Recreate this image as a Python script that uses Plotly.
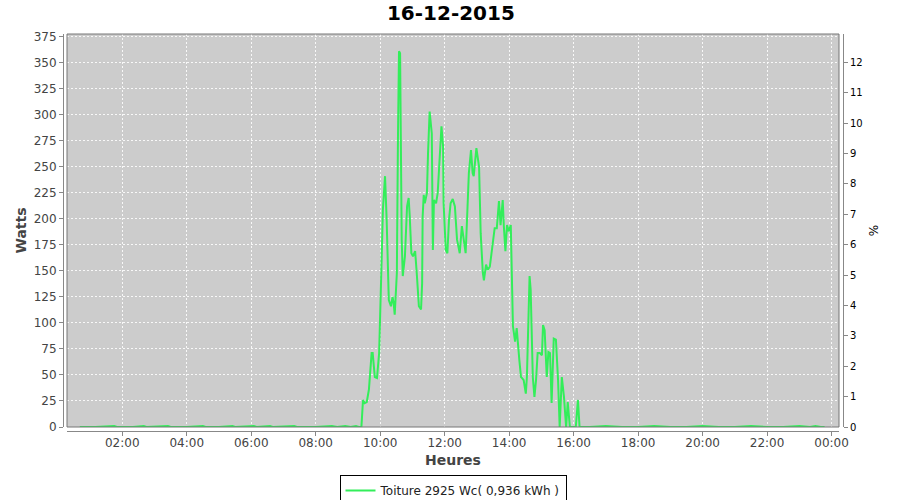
import plotly.graph_objects as go

DAY = "2015-12-16"
NEXT_DAY = "2015-12-17"

# Times (HH:MM) and power readings (W)
times = [
    "00:41", "01:10", "01:45", "01:50", "02:20", "02:40", "02:45", "03:25", "03:30",
    "04:00", "04:30", "04:35", "05:00", "05:25", "05:30", "06:05", "06:10", "06:35",
    "06:40", "07:20", "07:25", "08:00", "08:30", "08:40", "08:55", "09:05", "09:15",
    "09:20", "09:25",
    "09:28", "09:31", "09:35", "09:39", "09:44", "09:46", "09:50", "09:54", "09:58",
    "10:03", "10:05", "10:09", "10:12", "10:16", "10:20", "10:23", "10:25", "10:27",
    "10:31", "10:33", "10:35", "10:37", "10:38", "10:40", "10:42", "10:46", "10:50",
    "10:53", "10:55", "10:58", "11:01", "11:05", "11:08", "11:12", "11:16", "11:18",
    "11:19", "11:21", "11:23", "11:27", "11:29", "11:32", "11:36", "11:38", "11:40",
    "11:44", "11:47", "11:49", "11:54", "11:57", "11:58", "12:02", "12:05", "12:08",
    "12:11", "12:15", "12:19", "12:23", "12:28", "12:32", "12:36", "12:39", "12:41",
    "12:45", "12:49", "12:52", "12:54", "12:59", "13:04", "13:07", "13:11", "13:13",
    "13:17", "13:20", "13:24", "13:30", "13:33", "13:37", "13:41", "13:44", "13:48",
    "13:50", "13:53", "13:56", "13:59", "14:03", "14:07", "14:11", "14:14", "14:19",
    "14:22", "14:24", "14:27", "14:31", "14:33", "14:38", "14:40", "14:44", "14:47",
    "14:50", "14:53", "14:57", "15:01", "15:03", "15:06", "15:10", "15:13", "15:16",
    "15:19", "15:23", "15:27", "15:31", "15:34", "15:38", "15:42", "15:46", "15:49",
    "15:53", "16:04", "16:08", "16:11",
    "16:30", "17:00", "17:30", "18:00", "18:30", "19:00", "19:30", "20:00", "20:30",
    "21:00", "21:30", "22:00", "22:30", "23:00", "23:20", "23:30", "23:40", "23:47",
]
watts = [
    0, 0, 1, 0, 0, 1, 0, 1, 0,
    0, 1, 0, 0, 1, 0, 1, 0, 1,
    0, 1, 0, 0, 1, 0, 1, 0, 1,
    0, 0,
    26, 23, 24, 36, 71, 71, 48, 47, 71,
    167, 209, 241, 199, 122, 116, 125, 119, 108,
    148, 276, 361, 359, 276, 180, 145, 164, 212,
    220, 202, 167, 164, 169, 148, 116, 113, 138,
    202, 223, 215, 225, 263, 303, 282, 170, 218,
    215, 225, 247, 289, 270, 215, 170, 167, 199,
    215, 219, 212, 180, 167, 193, 180, 167, 192,
    244, 266, 244, 241, 268, 250, 186, 148, 141,
    156, 151, 154, 183, 191, 191, 217, 194, 218,
    194, 169, 194, 188, 194, 97, 82, 95, 64,
    48, 47, 45, 32, 48, 145, 132, 48, 29,
    45, 71, 71, 69, 98, 93, 48, 72, 71,
    23, 85, 84, 45, 0, 48, 29, 0, 24,
    0, 0, 26, 0,
    0, 1, 0, 0, 1, 0, 0, 1, 0,
    0, 1, 0, 0, 1, 0, 1, 0, 0,
]

series_name = "Toiture 2925 Wc( 0,936 kWh )"
title_text = "16-12-2015"

x_vals = [f"{DAY} {t}" for t in times]

fig = go.Figure()
fig.add_trace(go.Scatter(
    x=x_vals, y=watts, mode="lines", name=series_name,
    line=dict(color="#33EE5A", width=2),
    yaxis="y", hoverinfo="x+y",
))
# invisible helper trace so the right-hand % axis is drawn
fig.add_trace(go.Scatter(
    x=[x_vals[0]], y=[0], mode="markers", marker=dict(opacity=0),
    yaxis="y2", showlegend=False, hoverinfo="skip",
))

FONT = "DejaVu Sans"
tick_col = "#444444"
axis_col = "#888888"
grid_col = "rgba(255,255,255,0.85)"

fig.update_layout(
    width=900, height=500,
    paper_bgcolor="white", plot_bgcolor="#CCCCCC",
    margin=dict(l=63, r=57, t=34, b=69, autoexpand=False),
    font=dict(family=FONT, size=12, color=tick_col),
    title=dict(text=f"<b>{title_text}</b>", x=0.501, xanchor="center",
               y=0.974, yanchor="middle", automargin=False,
               font=dict(size=20, color="black", family=FONT)),
    showlegend=True,
    legend=dict(orientation="h", x=0.5, xanchor="center", y=0.05, yanchor="top",
                yref="container",
                bordercolor="black", borderwidth=1, bgcolor="white",
                font=dict(size=12, color="#222222", family=FONT),
                itemwidth=30, tracegroupgap=0),
    xaxis=dict(
        type="date", domain=[4 / 780, 776 / 780],
        range=[f"{DAY} 00:17:07", f"{NEXT_DAY} 00:13:50"],
        tick0=f"{DAY} 00:00", dtick=2 * 3600 * 1000, tickformat="%H:%M",
        showgrid=True, gridcolor=grid_col, griddash="2px,2px", gridwidth=1,
        showline=True, linecolor=axis_col, linewidth=1,
        ticks="outside", ticklen=4, tickcolor=axis_col,
        ticklabelstandoff=-3,
        anchor="free", position=0, automargin=False,
        tickfont=dict(size=12, color=tick_col),
        title=dict(text="<b>Heures</b>", font=dict(size=14, color=tick_col), standoff=5),
        zeroline=False,
    ),
    yaxis=dict(
        domain=[4 / 397, 1], range=[0, 377.6], dtick=25, tick0=0,
        showgrid=True, gridcolor=grid_col, griddash="2px,2px", gridwidth=1,
        showline=True, linecolor=axis_col, linewidth=1,
        ticks="outside", ticklen=4, tickcolor=axis_col,
        anchor="free", position=0, automargin=False,
        tickfont=dict(size=12, color=tick_col),
        title=dict(text="<b>Watts</b>", font=dict(size=14, color=tick_col), standoff=2),
        zeroline=False,
    ),
    yaxis2=dict(
        overlaying="y", side="right", range=[0, 12.93], dtick=1, tick0=0,
        showgrid=False, showline=True, linecolor=axis_col, linewidth=1,
        ticks="outside", ticklen=4, tickcolor=axis_col,
        anchor="free", position=1, automargin=False,
        tickfont=dict(size=10, color="black"),
        title=dict(text="%", font=dict(size=12, color="black"), standoff=7),
        zeroline=False,
    ),
    shapes=[dict(type="rect", xref="x domain", yref="y domain", x0=0, x1=1, y0=0, y1=1,
                 line=dict(color="#777777", width=1), fillcolor="rgba(0,0,0,0)", layer="above")],
)

fig.write_html("out.html", config={"displayModeBar": False},
               post_script="document.body.style.margin='0';")
